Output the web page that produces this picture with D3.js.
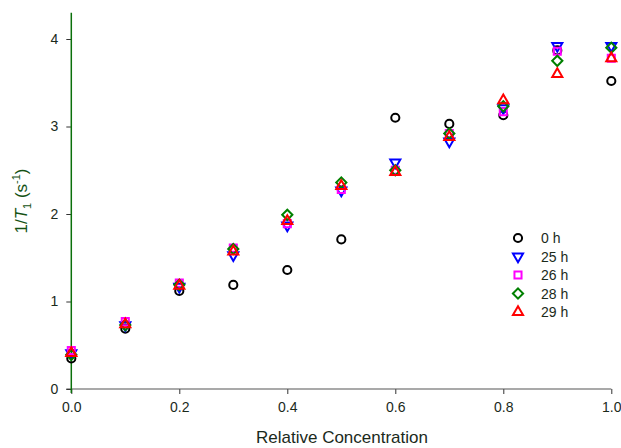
<!DOCTYPE html>
<html>
<head>
<meta charset="utf-8">
<script src="https://cdn.jsdelivr.net/npm/d3@7"></script>
<style>
  body { margin: 0; background: #fff; }
  text { font-family: "Liberation Sans", Arial, sans-serif; }
</style>
</head>
<body>
<svg id="vis"></svg>
<script>
// relative concentration
const conc = [0.0, 0.1, 0.2, 0.3, 0.4, 0.5, 0.6, 0.7, 0.8, 0.9, 1.0];

// 1/T1 for each incubation time
const h0  = [0.35, 0.69, 1.12, 1.19, 1.36, 1.71, 3.10, 3.03, 3.13, 3.87, 3.52];
const h25 = [0.41, 0.73, 1.17, 1.53, 1.87, 2.27, 2.59, 2.83, 3.21, 3.92, 3.92];
const h26 = [0.44, 0.77, 1.21, 1.61, 1.89, 2.28, 2.50, 2.92, 3.17, 3.86, 3.78];
const h28 = [0.39, 0.73, 1.19, 1.60, 1.99, 2.36, 2.50, 2.92, 3.23, 3.75, 3.90];
const h29 = [0.41, 0.74, 1.18, 1.57, 1.92, 2.32, 2.48, 2.88, 3.30, 3.60, 3.78];

const seriesNames = ["0 h", "25 h", "26 h", "28 h", "29 h"];
const xTicks = [0, 0.2, 0.4, 0.6, 0.8, 1.0];
const yTicks = [0, 1, 2, 3, 4];

let config = { svg: {} };
config.svg.width = 621;
config.svg.height = 448;

const series = [
  { name: seriesNames[0], values: h0,  color: "#000000", shape: "circle" },
  { name: seriesNames[1], values: h25, color: "#0000ff", shape: "down" },
  { name: seriesNames[2], values: h26, color: "#ff00ff", shape: "square" },
  { name: seriesNames[3], values: h28, color: "#008000", shape: "diamond" },
  { name: seriesNames[4], values: h29, color: "#ff0000", shape: "up" }
];

const svg = d3.select("svg#vis")
  .attr("width", config.svg.width)
  .attr("height", config.svg.height);

let scale = {};
scale.x = d3.scaleLinear().domain([0, 1]).range([71.3, 611.3]);
scale.y = d3.scaleLinear().domain([0, 4]).range([389, 39]);

// axes
let axis = {};
axis.x = d3.axisBottom(scale.x).tickValues(xTicks).tickFormat(d3.format(".1f"))
  .tickSize(5).tickSizeOuter(0).tickPadding(8);
axis.y = d3.axisLeft(scale.y).tickValues(yTicks).tickFormat(d3.format("d"))
  .tickSize(5).tickSizeOuter(0).tickPadding(8);

let gx = svg.append("g")
  .attr("transform", translate(0, scale.y(0)))
  .call(axis.x);
gx.select(".domain").remove();
gx.append("line")
  .attr("x1", scale.x(0) - 5).attr("x2", scale.x(1))
  .attr("stroke", "#555").attr("stroke-width", 1.2);
gx.selectAll(".tick line").attr("stroke", "#333");
gx.selectAll(".tick text").attr("font-size", 14).attr("fill", "#1b2a1b");

let gy = svg.append("g")
  .attr("transform", translate(scale.x(0), 0))
  .call(axis.y);
gy.select(".domain").remove();
gy.append("line")
  .attr("y1", scale.y(0) + 4).attr("y2", scale.y(4.3))
  .attr("stroke", "#0b700b").attr("stroke-width", 1.5);
gy.selectAll(".tick line").attr("stroke", "#333");
gy.selectAll(".tick text").attr("font-size", 14).attr("fill", "#1b2a1b");

// markers
function symbolPath(shape) {
  switch (shape) {
    case "circle": return d3.symbol(d3.symbolCircle, 52)();
    case "square": return d3.symbol(d3.symbolSquare, 50)();
    case "diamond": return d3.symbol(d3.symbolSquare, 52)();
    default: return d3.symbol(d3.symbolTriangle, 44)();
  }
}
function symbolRotate(shape) {
  if (shape === "down") return 180;
  if (shape === "diamond") return 45;
  return 0;
}

let plot = svg.append("g").attr("id", "plot");
series.forEach(s => {
  plot.append("g")
    .selectAll("path")
    .data(conc.map((c, i) => ({ x: c, y: s.values[i] })))
    .enter()
    .append("path")
    .attr("d", symbolPath(s.shape))
    .attr("transform", d => translate(scale.x(d.x), scale.y(d.y)) + " rotate(" + symbolRotate(s.shape) + ")")
    .attr("fill", "none")
    .attr("stroke", s.color)
    .attr("stroke-width", 2);
});

// legend
let legend = svg.append("g").attr("transform", translate(518, 238));
series.forEach((s, i) => {
  let row = legend.append("g").attr("transform", translate(0, i * 18.5));
  row.append("path")
    .attr("d", symbolPath(s.shape))
    .attr("transform", "rotate(" + symbolRotate(s.shape) + ")")
    .attr("fill", "none")
    .attr("stroke", s.color)
    .attr("stroke-width", 2);
  row.append("text")
    .attr("x", 23)
    .attr("y", 5)
    .attr("font-size", 14)
    .attr("fill", "#1b2a1b")
    .text(s.name);
});

// titles
svg.append("text")
  .attr("x", 342)
  .attr("y", 443)
  .attr("text-anchor", "middle")
  .attr("font-size", 17)
  .attr("fill", "#1b2a1b")
  .text("Relative Concentration");

let yt = svg.append("text")
  .attr("transform", translate(27, 201) + " rotate(-90)")
  .attr("text-anchor", "middle")
  .attr("font-size", 17)
  .attr("fill", "#145214");
yt.append("tspan").text("1/");
yt.append("tspan").attr("font-style", "italic").text("T");
yt.append("tspan").attr("font-size", 11).attr("dy", 4).text("1");
yt.append("tspan").attr("dy", -4).text(" (s");
yt.append("tspan").attr("font-size", 11).attr("dy", -7).text("-1");
yt.append("tspan").attr("dy", 7).text(")");

function translate(x, y) {
  return "translate(" + x + "," + y + ")";
}
</script>
</body>
</html>
